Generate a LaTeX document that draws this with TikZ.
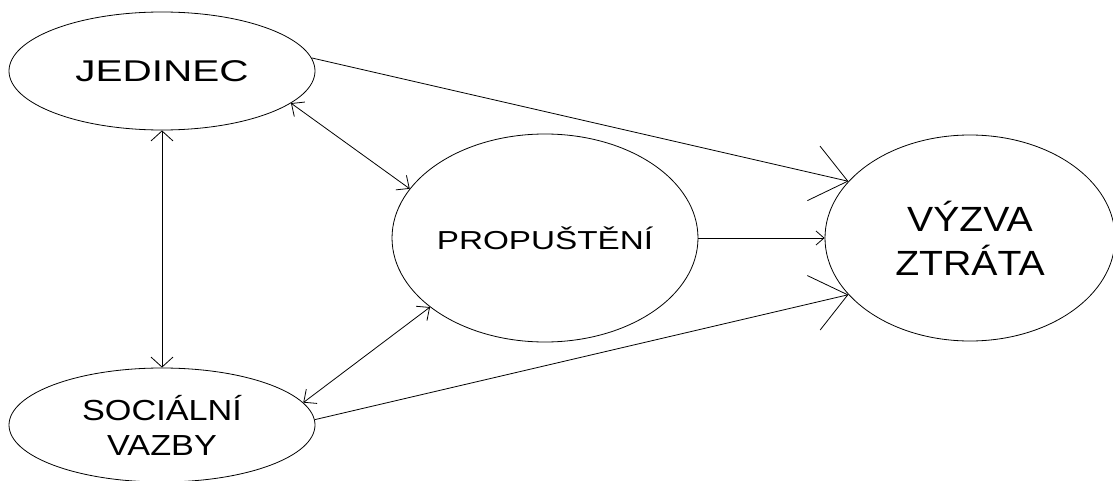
\documentclass[tikz,border=0pt]{standalone}
\usepackage{fontspec}
\setmainfont{Liberation Sans}
\newfontfamily\fj[FakeStretch=1.35]{Liberation Sans}
\newfontfamily\fp[FakeStretch=1.28]{Liberation Sans}
\newfontfamily\fv[FakeStretch=1.12]{Liberation Sans}
\newfontfamily\fs[FakeStretch=1.18]{Liberation Sans}
\usetikzlibrary{shapes.geometric,arrows.meta}
\begin{document}
\begin{tikzpicture}[x=1pt,y=-1pt,
  oval/.style={ellipse,draw,line width=0.8pt,inner sep=0pt,align=center},
  conn/.style={line width=0.8pt}]
\useasboundingbox (0,0) rectangle (1113,481);
\node[oval,minimum width=306pt,minimum height=118pt,font=\fj\fontsize{30}{36}\selectfont] (j) at (162,71) {JEDINEC};
\node[oval,minimum width=306pt,minimum height=114pt,font=\fs\fontsize{29}{35}\selectfont] (s) at (162,425) {SOCIÁLNÍ\\ VAZBY};
\node[oval,minimum width=300pt,minimum height=208pt,font=\fp\fontsize{26}{31}\selectfont] (p) at (545,238) {PROPUŠTĚNÍ};
\node[oval,minimum width=290pt,minimum height=206pt,font=\fv\fontsize{35}{44}\selectfont] (v) at (970,238) {VÝZVA\\ ZTRÁTA};
\draw[conn,-{Straight Barb[length=35pt,width=56pt]}] (j.5) -- (v.155);
\draw[conn,-{Straight Barb[length=35pt,width=56pt]}] (s.2) -- (v.205);
\draw[conn,-{Straight Barb[length=8pt,width=14pt]}] (p.east) -- (v.west);
\draw[conn,{Straight Barb[length=10pt,width=18pt]}-{Straight Barb[length=10pt,width=18pt]}] (j.-14) -- (p.160);
\draw[conn,{Straight Barb[length=10pt,width=18pt]}-{Straight Barb[length=10pt,width=18pt]}] (s.9) -- (p.211);
\draw[conn,{Straight Barb[length=10pt,width=22pt]}-{Straight Barb[length=10pt,width=22pt]}] (j.south) -- (s.north);
\end{tikzpicture}
\end{document}
